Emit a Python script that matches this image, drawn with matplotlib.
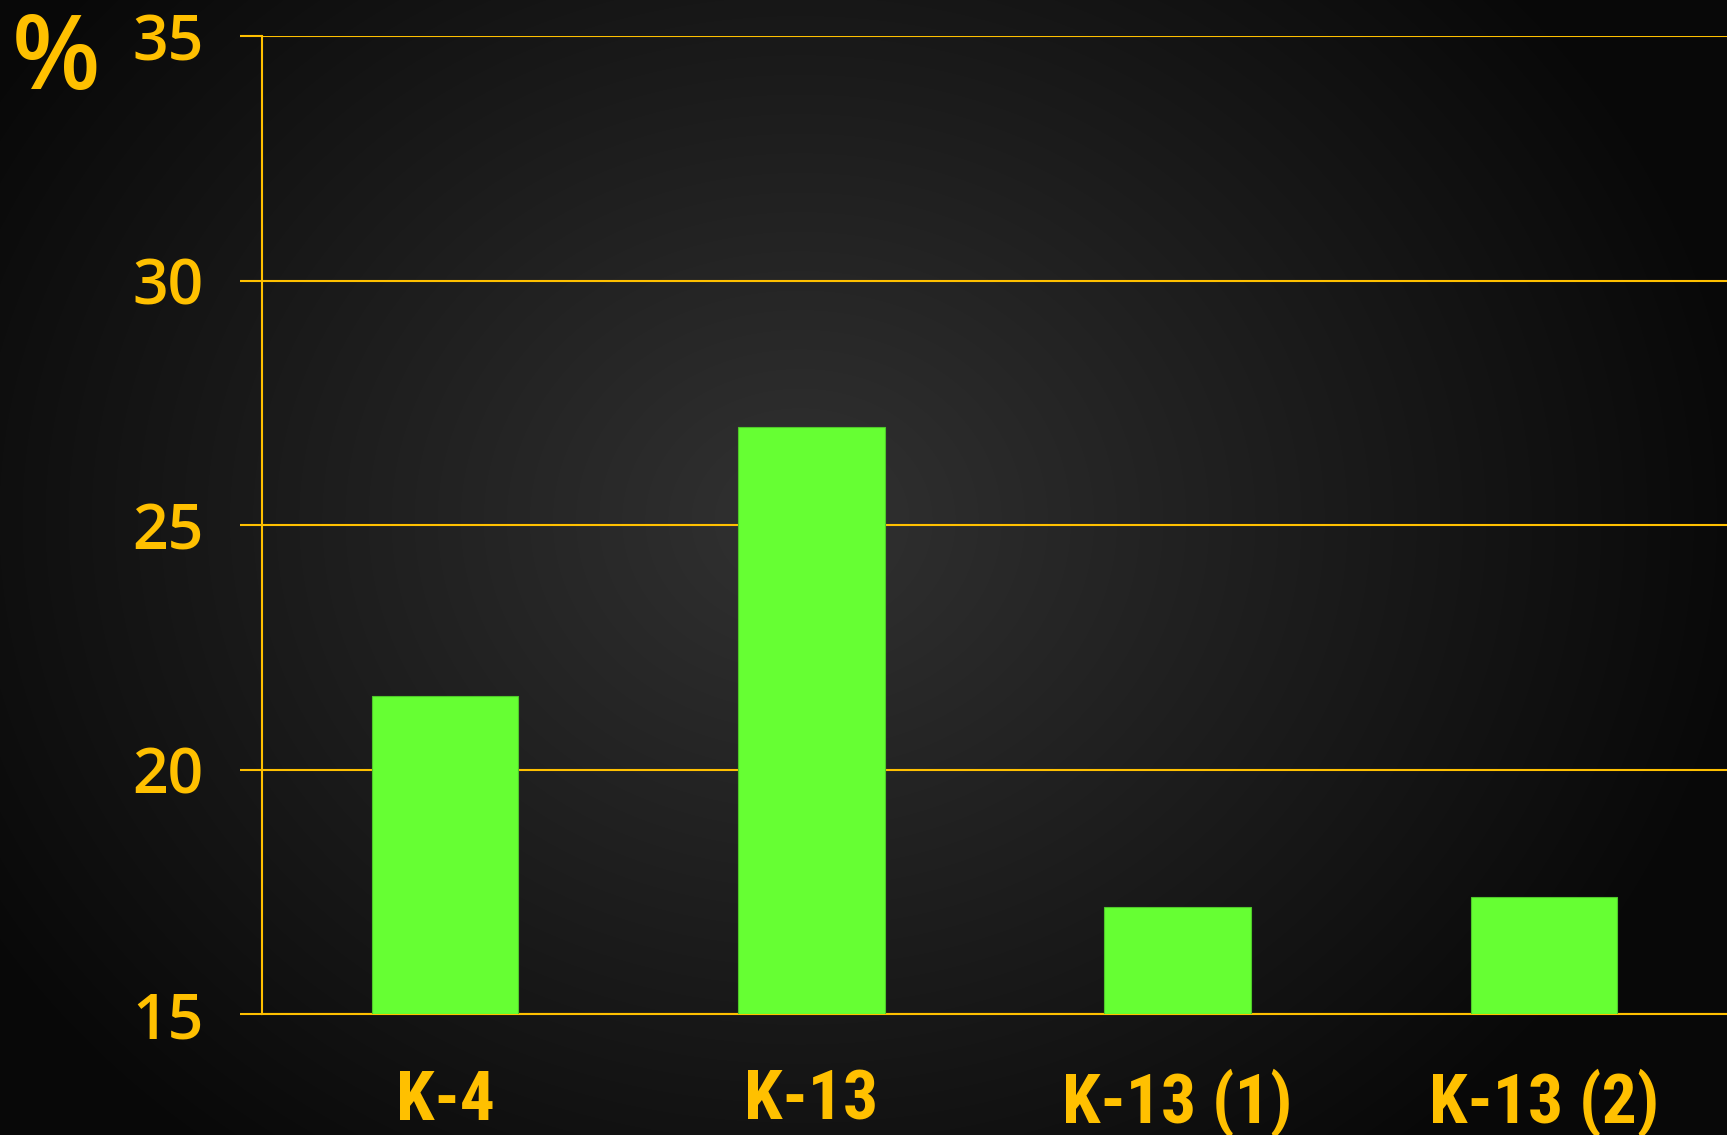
import matplotlib.pyplot as plt
import numpy as np
from matplotlib import font_manager

# data
categories = ["K-4", "K-13", "K-13 (1)", "K-13 (2)"]
values = [21.5, 27.0, 17.2, 17.4]
y_ticks = [15, 20, 25, 30, 35]

gold = "#FFC000"
green = "#66FF33"

names = {f.name for f in font_manager.fontManager.ttflist}
label_family = "DejaVu Sans"
for cand in ["Roboto Condensed", "Open Sans Condensed", "IBM Plex Sans Condensed"]:
    if cand in names:
        label_family = cand
        break

fig = plt.figure(figsize=(17.27, 11.35), dpi=100)

# radial background
bg = fig.add_axes([0, 0, 1, 1], zorder=-10)
yy, xx = np.mgrid[0:1135, 0:1727]
r = np.sqrt(((xx - 800) / 1000.0) ** 2 + ((yy - 520) / 850.0) ** 2)
shade = np.clip(0.195 - 0.17 * r, 0.035, 1)
bg.imshow(np.dstack([shade, shade, shade]), aspect="auto", interpolation="bilinear")
bg.axis("off")

ax = fig.add_axes([0.1517, 0.1063, 0.8483, 0.8618])
ax.set_facecolor("none")

x = np.arange(len(categories))
ax.bar(x, [v - 15 for v in values], bottom=15, width=0.4, color=green,
       edgecolor="#4fc82a", linewidth=0.8, zorder=3)

ax.set_xlim(-0.5, 3.5)
ax.set_ylim(15, 35)
ax.set_yticks(y_ticks)
ax.yaxis.grid(True, color=gold, linewidth=1.5, zorder=1)
ax.tick_params(axis="y", length=16, width=1.5, color=gold, pad=26,
               labelcolor=gold, labelsize=45)
for lbl in ax.get_yticklabels():
    lbl.set_fontfamily("Open Sans")
    lbl.set_fontweight(600)

ax.set_xticks(x)
ax.set_xticklabels(categories, fontsize=50, fontweight=600, color=gold,
                   fontfamily=label_family)
ax.tick_params(axis="x", length=0, pad=39)

for s in ["top", "right"]:
    ax.spines[s].set_visible(False)
ax.spines["left"].set_color(gold)
ax.spines["left"].set_linewidth(1.5)
ax.spines["bottom"].set_color(gold)
ax.spines["bottom"].set_linewidth(1.5)

fig.text(0.007, 0.922, "%", fontsize=74, color=gold, fontfamily="Open Sans",
         fontweight=600)

fig.savefig("out.png", dpi=100)
